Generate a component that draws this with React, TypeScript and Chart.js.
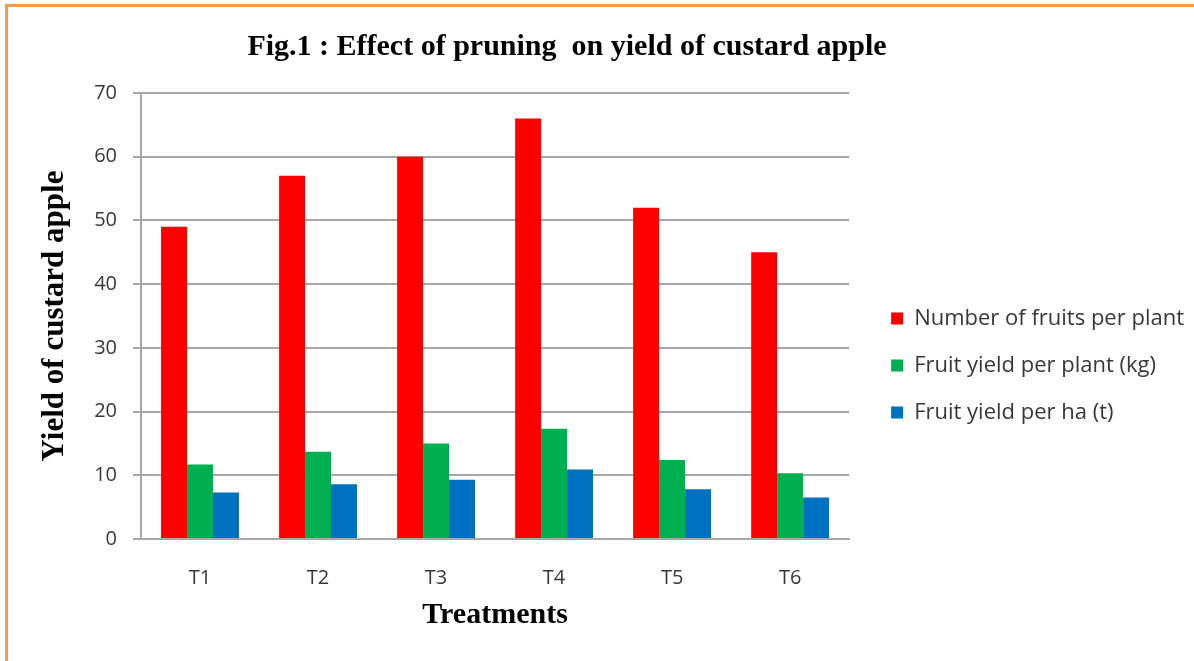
import React, { useEffect, useRef } from "react";
import { Chart, registerables } from "chart.js";

Chart.register(...registerables);

const categories = ["T1", "T2", "T3", "T4", "T5", "T6"];
const fruitsPerPlant = [49, 57, 60, 66, 52, 45];
const yieldPerPlantKg = [11.7, 13.7, 15.0, 17.3, 12.4, 10.3];
const yieldPerHaT = [7.3, 8.6, 9.3, 10.9, 7.8, 6.5];
const seriesNames = [
  "Number of fruits per plant",
  "Fruit yield per plant (kg)",
  "Fruit yield per ha (t)",
];
const seriesColors = ["#FF0000", "#00B050", "#0070C0"];
const chartTitle = "Fig.1 : Effect of pruning  on yield of custard apple";
const xTitle = "Treatments";
const yTitle = "Yield of custard apple";

const W = 1194;
const H = 661;

export default function App() {
  const ref = useRef<HTMLCanvasElement | null>(null);

  useEffect(() => {
    if (!ref.current) return;
    const serif = "'Liberation Serif', 'Times New Roman', serif";
    const sans = "'Open Sans', 'Liberation Sans', sans-serif";
    const grid = "#a8a8a8";
    const chart = new Chart(ref.current, {
      type: "bar",
      data: {
        labels: categories,
        datasets: [fruitsPerPlant, yieldPerPlantKg, yieldPerHaT].map((d, i) => ({
          label: seriesNames[i],
          data: d,
          backgroundColor: seriesColors[i],
          borderWidth: 0,
          categoryPercentage: 0.66,
          barPercentage: 1,
        })),
      },
      options: {
        animation: false,
        responsive: false,
        devicePixelRatio: 1,
        layout: { padding: 0 },
        plugins: {
          title: {
            display: true,
            text: chartTitle + "        ",
            color: "#000",
            font: { family: serif, size: 30, weight: "bold", lineHeight: 1.2 },
            padding: { top: 29, bottom: 28 },
          },
          legend: {
            position: "right",
            align: "center",
            maxWidth: 400,
            title: {
              display: true,
              text: " ",
              font: { size: 2, lineHeight: 1 },
              padding: { top: 68, bottom: 0 },
            },
            labels: {
              boxWidth: 12,
              boxHeight: 12,
              padding: 25,
              color: "#383838",
              font: { family: sans, size: 22 },
            },
          },
          tooltip: { enabled: false },
        },
        scales: {
          x: {
            grid: { display: true, drawOnChartArea: false, drawTicks: false, color: grid, lineWidth: 2 },
            border: { display: true, color: grid, width: 2 },
            ticks: { color: "#383838", font: { family: sans, size: 20 }, padding: 27 },
            title: {
              display: true,
              text: xTitle,
              color: "#000",
              font: { family: serif, size: 30, weight: "bold", lineHeight: 1.2 },
              padding: { top: 0, bottom: 28 },
            },
            afterFit: (s: any) => {
              s.height = 122;
            },
          },
          y: {
            min: 0,
            max: 70,
            ticks: { stepSize: 10, color: "#383838", font: { family: sans, size: 20 }, padding: 16 },
            grid: { color: grid, lineWidth: 2, tickLength: 8 },
            border: { display: true, color: grid, width: 2 },
            title: {
              display: true,
              text: yTitle,
              color: "#000",
              font: { family: serif, size: 31, weight: "bold", lineHeight: 1.2 },
              padding: { top: 36, bottom: 0 },
            },
            afterFit: (s: any) => {
              s.width = 141;
            },
          },
          gap: {
            type: "linear",
            position: "right",
            display: true,
            grid: { display: false, drawTicks: false },
            border: { display: false },
            ticks: { display: false },
            afterFit: (s: any) => {
              s.width = 17;
            },
          },
        },
      } as any,
    });
    return () => chart.destroy();
  }, []);

  return (
    <div style={{ position: "absolute", left: 0, top: 0, width: W, height: H, background: "#fff", overflow: "hidden" }}>
      <canvas ref={ref} width={W} height={H} style={{ position: "absolute", left: 0, top: 0, width: W, height: H }} />
      <div
        style={{
          position: "absolute",
          left: 5,
          top: 4,
          right: 0,
          bottom: 0,
          borderTop: "3px solid #F89A4A",
          borderLeft: "3px solid #F89A4A",
          pointerEvents: "none",
        }}
      />
    </div>
  );
}
